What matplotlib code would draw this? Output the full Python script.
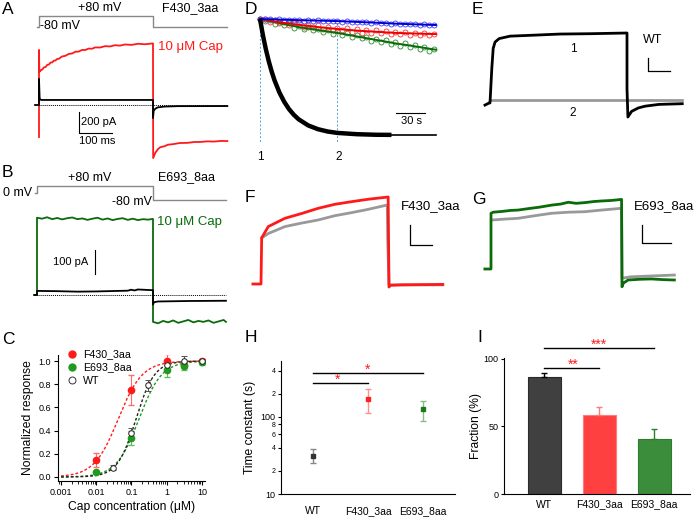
import numpy as np
import matplotlib.pyplot as plt
from matplotlib.lines import Line2D
from matplotlib.ticker import NullLocator

plt.rcParams['font.family'] = ['Liberation Sans', 'DejaVu Sans']

W, H = 700, 521

# ─── A: F430_3aa currents (ms, pA) ─────────────────────────────────────
a_vt = [-6, 0, 0, 345, 345, 570]
a_v = [-80, -80, 80, 80, -80, -80]
a_black_t = [-12, 0, 0, 2, 6, 345, 345, 347, 352, 360, 380, 420, 570]
a_black_i = [0, 0, 248, 60, 48, 48, -124, -55, -35, -22, -15, -11, -10]
a_red_t = [0, 0, 1, 5, 10, 15, 20, 25, 30, 35, 40, 45, 50, 55, 60, 70, 80, 90, 100,
           110, 120, 130, 140, 150, 160, 170, 185, 200, 215, 230, 245, 260, 280, 300,
           320, 345, 345.5, 352, 360, 367, 380, 390, 407, 425, 450, 470, 487, 510,
           530, 550, 570]
a_red_i = [-305, 524, 314, 330, 338, 358, 362, 382, 385, 404, 405, 422, 424, 438, 440,
           462, 468, 486, 490, 507, 508, 524, 523, 537, 535, 548, 547, 560, 557, 569,
           565, 576, 572, 583, 578, 586, -505, -455, -420, -402, -392, -378, -372,
           -362, -360, -352, -352, -346, -348, -342, -343]

# ─── B: E693_8aa currents (ms, pA) ─────────────────────────────────────
b_vt = [-6, 0, 0, 345, 345, 562]
b_v = [0, 0, 80, 80, -80, -80]
b_black_t = [-8, 0, 0, 60, 120, 180, 240, 270, 280, 290, 300, 330, 345, 345, 348,
             360, 450, 562]
b_black_i = [0, 0, 17, 16, 14, 15, 17, 18, 22, 19, 23, 21, 20, -40, -30, -27, -25, -24]
b_green_t = [-8, 0, 0, 15, 30, 45, 60, 75, 90, 105, 120, 135, 150, 165, 180, 195, 210,
             225, 240, 255, 270, 285, 300, 315, 330, 345, 345, 360, 375, 390, 405, 420,
             435, 450, 465, 480, 495, 510, 525, 540, 555, 562]
b_green_i = [0, 0, 322, 318, 324, 316, 321, 315, 320, 323, 316, 319, 313, 318, 322, 314,
             319, 312, 317, 320, 313, 318, 312, 316, 314, 317, -112, -118, -108, -114,
             -106, -116, -110, -104, -114, -108, -112, -106, -116, -110, -104, -112]

# ─── C: dose response ──────────────────────────────────────────────────
c_f430_x = [0.01, 0.1, 1, 3, 10]
c_f430_y = [0.15, 0.75, 1.0, 0.97, 1.0]
c_f430_e = [0.06, 0.13, 0.06, 0.03, 0.02]
c_e693_x = [0.01, 0.1, 1, 3, 10]
c_e693_y = [0.04, 0.34, 0.92, 0.96, 0.99]
c_e693_e = [0.01, 0.06, 0.06, 0.04, 0.02]
c_wt_x = [0.03, 0.1, 0.3, 1, 3, 10]
c_wt_y = [0.08, 0.38, 0.79, 0.97, 1.0, 1.0]
c_wt_e = [0.02, 0.04, 0.05, 0.04, 0.04, 0.02]
hill_ec50 = [0.042, 0.163, 0.134]  # F430, E693, WT
hill_n = [1.27, 1.35, 1.65]

# ─── D: desensitisation time course (s, normalised) ────────────────────
d_t = list(range(0, 185, 5))
d_red = [1.000, 1.003, 0.976, 0.994, 0.967, 0.978, 0.947, 0.963, 0.966, 0.933, 0.950,
         0.927, 0.945, 0.916, 0.934, 0.904, 0.923, 0.904, 0.921, 0.891, 0.910, 0.882,
         0.902, 0.883, 0.903, 0.877, 0.893, 0.869, 0.891, 0.872, 0.889, 0.864, 0.881,
         0.864, 0.882, 0.860, 0.874]
d_green = [1.000, 0.979, 0.992, 0.959, 0.977, 0.946, 0.963, 0.923, 0.940, 0.911, 0.933,
           0.901, 0.917, 0.884, 0.903, 0.874, 0.896, 0.863, 0.878, 0.843, 0.862, 0.833,
           0.849, 0.812, 0.831, 0.801, 0.820, 0.788, 0.803, 0.768, 0.790, 0.760, 0.779,
           0.745, 0.760, 0.728, 0.743]
d_blue = [1.000, 0.998, 1.001, 0.994, 0.997, 0.991, 0.995, 0.989, 0.992, 0.986, 0.990,
          0.985, 0.988, 0.982, 0.986, 0.980, 0.984, 0.978, 0.982, 0.975, 0.978, 0.971,
          0.975, 0.968, 0.971, 0.964, 0.968, 0.960, 0.963, 0.957, 0.960, 0.953, 0.956,
          0.950, 0.953, 0.946, 0.950]
d_fit_t = [0, 20, 40, 60, 80, 100, 120, 140, 160, 182]
d_red_fit = [1.0, 0.972, 0.950, 0.930, 0.914, 0.900, 0.890, 0.880, 0.875, 0.870]
d_green_fit = [1.0, 0.965, 0.930, 0.905, 0.880, 0.850, 0.820, 0.790, 0.765, 0.735]
d_blue_fit = [1.0, 0.995, 0.990, 0.986, 0.982, 0.975, 0.968, 0.960, 0.954, 0.948]
d_black_t = [0, 3, 6, 9, 12, 15, 20, 25, 30, 35, 40, 50, 60, 70, 80, 100, 120, 136]
d_black = [1.0, 0.861, 0.741, 0.638, 0.549, 0.472, 0.368, 0.287, 0.223, 0.174, 0.135,
           0.082, 0.050, 0.030, 0.018, 0.007, 0.002, 0.001]
d_marks = [0, 80]

# ─── E: WT traces at time 1 and 2 (ms, normalised) ─────────────────────
e_black_t = [-11, -2, 0, 2, 4, 7, 11, 20, 44, 100, 153, 220, 300, 300, 302, 310, 325,
             340, 370, 421]
e_black = [-0.03, 0, 0, 0.25, 0.5, 0.78, 0.87, 0.92, 0.955, 0.97, 0.985, 0.99, 1.0,
           0.2, -0.2, -0.12, -0.07, -0.045, -0.02, -0.01]
e_gray_t = [0, 421]
e_gray = [0.043, 0.043]

# ─── F: F430_3aa (ms, normalised) ──────────────────────────────────────
f_red_t = [-19, 0, 1.6, 17, 56, 95, 134, 173, 212, 251, 298, 300, 303, 330, 426]
f_red = [0, 0, 0.53, 0.66, 0.755, 0.81, 0.87, 0.916, 0.946, 0.974, 1.0, -0.035,
         -0.015, -0.01, -0.005]
f_gray_t = [1.6, 17, 56, 95, 134, 173, 212, 251, 296, 297, 300, 426]
f_gray = [0.53, 0.58, 0.66, 0.70, 0.736, 0.785, 0.82, 0.858, 0.908, 0.5, -0.01, -0.01]

# ─── G: E693_8aa (ms, normalised) ──────────────────────────────────────
g_green_t = [-14, 0, 0, 5, 24, 45, 62, 85, 110, 139, 160, 177, 195, 215, 235, 253, 275,
             299, 300, 303, 314, 340, 367, 395, 420]
g_green = [0, 0, 0.785, 0.80, 0.81, 0.825, 0.83, 0.85, 0.87, 0.90, 0.915, 0.94, 0.925,
           0.935, 0.95, 0.958, 0.965, 0.98, -0.25, -0.2, -0.155, -0.145, -0.14, -0.15,
           -0.155]
g_gray_t = [2, 24, 62, 100, 139, 177, 215, 253, 299, 300, 320, 420]
g_gray = [0.69, 0.70, 0.714, 0.75, 0.785, 0.80, 0.807, 0.83, 0.855, -0.13, -0.11, -0.085]

# ─── H / I: summary ────────────────────────────────────────────────────
groups = ['WT', 'F430_3aa', 'E693_8aa']
tau_mean = [31, 170, 127]
tau_lo = [25, 112, 89]
tau_hi = [38, 230, 162]
frac_mean = [87, 58.5, 40.7]
frac_err = [2.6, 6.0, 7.3]

RED, GREEN, DGREEN = '#ff1a1a', '#1e9a1e', '#0a6b0a'

fig = plt.figure(figsize=(7, 5.21), dpi=100)


def ftext(x, y, s, **kw):
    kw.setdefault('va', 'center')
    fig.text(x / W, 1 - y / H, s, **kw)


def place(box, xcal, ycal):
    x0, y0, x1, y1 = box
    ax = fig.add_axes([x0 / W, 1 - y1 / H, (x1 - x0) / W, (y1 - y0) / H])
    (pa, da), (pb, db) = xcal
    s = (db - da) / (pb - pa)
    ax.set_xlim(da + (x0 - pa) * s, da + (x1 - pa) * s)
    (qa, ea), (qb, eb) = ycal
    s = (eb - ea) / (qb - qa)
    ax.set_ylim(ea + (y1 - qa) * s, ea + (y0 - qa) * s)
    ax.axis('off')
    return ax


def box_axes(box):
    x0, y0, x1, y1 = box
    ax = fig.add_axes([x0 / W, 1 - y1 / H, (x1 - x0) / W, (y1 - y0) / H])
    ax.spines[['top', 'right']].set_visible(False)
    return ax


# ─── Panel A ────────────────────────────────────────────────────────────
pa = place((30, 8, 235, 34), ((39, 0), (153, 345)), ((16, 80), (27, -80)))
pa.plot(a_vt, a_v, color='#888888', lw=1)
ax = place((30, 35, 235, 165), ((39, 0), (153, 345)), ((105, 0), (43, 590)))
ax.plot(a_red_t, a_red_i, color=RED, lw=1.3)
ax.plot(a_black_t, a_black_i, color='black', lw=1.3)
ax.plot([0, 570], [0, 0], color='black', lw=0.7, ls=(0, (1, 1)))
ax.plot([121, 121, 221], [-67, -267, -267], color='black', lw=0.8)
ftext(2, 10, 'A', fontsize=12.5)
ftext(78, 8, '+80 mV', fontsize=9)
ftext(40, 26, '-80 mV', fontsize=9)
ftext(162, 8, 'F430_3aa', fontsize=9)
ftext(158, 47, '10 μM Cap', fontsize=9.5, color=RED)
ftext(81, 122, '200 pA', fontsize=8)
ftext(79, 141, '100 ms', fontsize=8)

# ─── Panel B ────────────────────────────────────────────────────────────
pb = place((30, 180, 235, 205), ((37, 0), (153, 345)), ((186, 80), (193, 0)))
pb.plot(b_vt, b_v, color='#888888', lw=1)
ax = place((30, 206, 235, 330), ((37, 0), (153, 345)), ((295, 0), (271, 100)))
ax.plot(b_green_t, b_green_i, color=DGREEN, lw=1.3)
ax.plot(b_black_t, b_black_i, color='black', lw=1.3)
ax.plot([0, 562], [0, 0], color='black', lw=0.7, ls=(0, (1, 1)))
ax.plot([172, 172], [187, 87], color='black', lw=0.8)
ftext(2, 172, 'B', fontsize=12.5)
ftext(68, 178, '+80 mV', fontsize=9)
ftext(3, 193, '0 mV', fontsize=9)
ftext(112, 202, '-80 mV', fontsize=9)
ftext(158, 177, 'E693_8aa', fontsize=9)
ftext(157, 222, '10 μM Cap', fontsize=9.5, color=DGREEN)
ftext(88, 262, '100 pA', fontsize=8, ha='right')

# ─── Panel C ────────────────────────────────────────────────────────────
ax = box_axes((58, 355, 205, 481))
xf = np.logspace(-3, 1, 200)
for ec, nh, col in zip(hill_ec50, hill_n, [RED, GREEN, '#222222']):
    ax.plot(xf, 1 / (1 + (ec / xf) ** nh), color=col, lw=1, ls=(0, (2, 1.5)))
ax.errorbar(c_f430_x, c_f430_y, yerr=c_f430_e, fmt='o', color=RED, ecolor='#ff6b6b',
            ms=4.5, capsize=2, elinewidth=0.8)
ax.errorbar(c_e693_x, c_e693_y, yerr=c_e693_e, fmt='o', color=GREEN, ecolor='#5cbf5c',
            ms=4.5, capsize=2, elinewidth=0.8)
ax.errorbar(c_wt_x, c_wt_y, yerr=c_wt_e, fmt='o', color='#222222', mfc='white',
            ecolor='#555555', ms=4, mew=0.7, capsize=2, elinewidth=0.8)
ax.set_xscale('log')
ax.set_xlim(0.00082, 12.2)
ax.set_ylim(-0.0345, 1.052)
ax.set_xticks([0.001, 0.01, 0.1, 1, 10])
ax.set_xticklabels(['0.001', '0.01', '0.1', '1', '10'])
ax.set_yticks([0, 0.2, 0.4, 0.6, 0.8, 1.0])
ax.set_yticklabels(['0.0', '0.2', '0.4', '0.6', '0.8', '1.0'])
ax.tick_params(labelsize=6.5, length=3, width=0.8, pad=2)
ax.tick_params(which='minor', length=1.8, width=0.6)
ax.set_xlabel('Cap concentration (μM)', fontsize=8.7, labelpad=3)
ax.set_ylabel('Normalized response', fontsize=8.7, labelpad=3)
handles = [Line2D([], [], ls='none', marker='o', color=RED, ms=5),
           Line2D([], [], ls='none', marker='o', color=GREEN, ms=5),
           Line2D([], [], ls='none', marker='o', mfc='white', mec='#333333', ms=5,
                  mew=0.7)]
ax.legend(handles, groups[1:] + groups[:1], loc='upper left',
          bbox_to_anchor=(62 / W, 1 - 344 / H), bbox_transform=fig.transFigure,
          frameon=False, fontsize=7.7, handlelength=0.8, handletextpad=0.7,
          labelspacing=0.3, borderpad=0)
ftext(2, 339, 'C', fontsize=12.5)

# ─── Panel D ────────────────────────────────────────────────────────────
ax = place((250, 10, 450, 150), ((260, 0), (289, 30)), ((135, 0), (19, 1.0)))
for tm in d_marks:
    ax.plot([tm, tm], [1.0, -0.06], color='#5b9bd5', lw=0.7, ls=(0, (2, 2)))
ax.plot(d_t, d_green, 'o', mfc='none', mec='#2e8b2e', ms=3.6, mew=0.6)
ax.plot(d_t, d_red, 'o', mfc='none', mec='#ff3030', ms=3.6, mew=0.6)
ax.plot(d_t, d_blue, 'o', mfc='none', mec='#3a3aff', ms=3.6, mew=0.6)
ax.plot(d_fit_t, d_green_fit, color=DGREEN, lw=1.4)
ax.plot(d_fit_t, d_red_fit, color='#ee0000', lw=1.4)
ax.plot(d_fit_t, d_blue_fit, color='#0000cc', lw=1.4)
ax.plot(d_black_t, d_black, color='black', lw=3.2, solid_capstyle='butt')
ax.plot([136, 182], [0, 0], color='black', lw=1.2)
ax.plot([141, 171], [0.19, 0.19], color='black', lw=0.8)
ftext(245, 10, 'D', fontsize=12.5)
ftext(260, 157, '1', fontsize=8.5, ha='center')
ftext(339, 157, '2', fontsize=8.5, ha='center')
ftext(412, 121, '30 s', fontsize=8, ha='center')

# ─── Panel E ────────────────────────────────────────────────────────────
ax = place((478, 20, 690, 130), ((490, 0), (627, 300)), ((103, 0), (33, 1.0)))
ax.plot(e_gray_t, e_gray, color='#999999', lw=2)
ax.plot(e_black_t, e_black, color='black', lw=2)
ax.plot([346, 346, 394], [0.643, 0.457, 0.457], color='black', lw=0.9)
ftext(472, 10, 'E', fontsize=12.5)
ftext(653, 40, 'WT', fontsize=9, ha='center')
ftext(573, 49, '1', fontsize=8.5, ha='center')
ftext(573, 113, '2', fontsize=8.5, ha='center')

# ─── Panel F ────────────────────────────────────────────────────────────
ax = place((245, 185, 470, 300), ((261, 0), (389, 300)), ((284, 0), (197, 1.0)))
ax.plot(f_gray_t, f_gray, color='#999999', lw=2)
ax.plot(f_red_t, f_red, color=RED, lw=2)
ax.plot([349, 349, 401], [0.678, 0.448, 0.448], color='black', lw=0.9)
ftext(245, 198, 'F', fontsize=12.5)
ftext(401, 206, 'F430_3aa', fontsize=9.5)

# ─── Panel G ────────────────────────────────────────────────────────────
ax = place((470, 185, 690, 300), ((491, 0), (622, 300)), ((269, 0), (198, 1.0)))
ax.plot(g_gray_t, g_gray, color='#999999', lw=2)
ax.plot(g_green_t, g_green, color=DGREEN, lw=2)
ax.plot([346, 346, 412], [0.62, 0.366, 0.366], color='black', lw=0.9)
ftext(472, 200, 'G', fontsize=12.5)
ftext(634, 206, 'E693_8aa', fontsize=9.5)

# ─── Panel H ────────────────────────────────────────────────────────────
ax = box_axes((281, 361, 455, 494))
mcol = ['#333333', '#ff2020', '#1a7a1a']
ecol = ['#888888', '#ff9090', '#88bb88']
for i in range(3):
    ax.errorbar([i], [tau_mean[i]],
                yerr=[[tau_mean[i] - tau_lo[i]], [tau_hi[i] - tau_mean[i]]],
                fmt='s', color=mcol[i], ecolor=ecol[i], ms=3.5, capsize=2.5,
                elinewidth=1, capthick=1)
ax.set_yscale('log')
ax.set_ylim(10, 533)
ax.set_xlim(-0.58, 2.58)
ax.yaxis.set_minor_locator(NullLocator())
ax.set_yticks([10, 20, 40, 60, 80, 100, 200, 400])
ax.set_yticklabels(['10', '2', '4', '6', '8', '100', '2', '4'])
for lab, fs in zip(ax.get_yticklabels(), [6.5, 5, 5, 5, 5, 6.5, 5, 5]):
    lab.set_fontsize(fs)
ax.tick_params(axis='y', length=2.5, width=0.8, pad=1.5)
ax.set_xticks([0, 1, 2])
ax.set_xticklabels(groups, fontsize=7.5)
ax.tick_params(axis='x', length=0, pad=9)
ax.set_ylabel('Time constant (s)', fontsize=8.7, labelpad=3)
ax.plot([0, 1], [277, 277], color='black', lw=1, clip_on=False)
ax.plot([0, 2], [373, 373], color='black', lw=1, clip_on=False)
ax.text(0.45, 300, '*', color=RED, fontsize=10, ha='center', va='center')
ax.text(1.0, 405, '*', color=RED, fontsize=10, ha='center', va='center')
ftext(245, 338, 'H', fontsize=12.5)

# ─── Panel I ────────────────────────────────────────────────────────────
ax = box_axes((504, 358, 690, 494))
bcol = ['#404040', '#ff4040', '#3b8c3b']
bedge = ['#2a2a2a', '#ff7a7a', '#2e7d2e']
ax.bar([0, 1, 2], frac_mean, width=0.6, color=bcol, edgecolor=bedge, lw=0.8)
for i in range(3):
    ax.errorbar([i], [frac_mean[i]], yerr=[[0], [frac_err[i]]], fmt='none',
                ecolor=bedge[i] if i else 'black', capsize=2.5, elinewidth=1, capthick=1)
ax.set_xlim(-0.727, 2.65)
ax.set_ylim(0, 100.7)
ax.set_yticks([0, 50, 100])
ax.tick_params(axis='y', labelsize=6.5, length=2.5, width=0.8, pad=1.5)
ax.set_xticks([0, 1, 2])
ax.set_xticklabels(groups, fontsize=7.5)
ax.tick_params(axis='x', length=0, pad=4)
ax.set_ylabel('Fraction (%)', fontsize=8.7, labelpad=1)
ax.plot([0, 1], [93.3, 93.3], color='black', lw=1, clip_on=False)
ax.plot([0, 2], [108, 108], color='black', lw=1, clip_on=False)
ax.text(0.53, 95.5, '**', color=RED, fontsize=10, ha='center', va='center')
ax.text(1.0, 110.5, '***', color=RED, fontsize=10, ha='center', va='center')
ftext(477, 338, 'I', fontsize=12.5)

fig.savefig('out.png', dpi=100)
